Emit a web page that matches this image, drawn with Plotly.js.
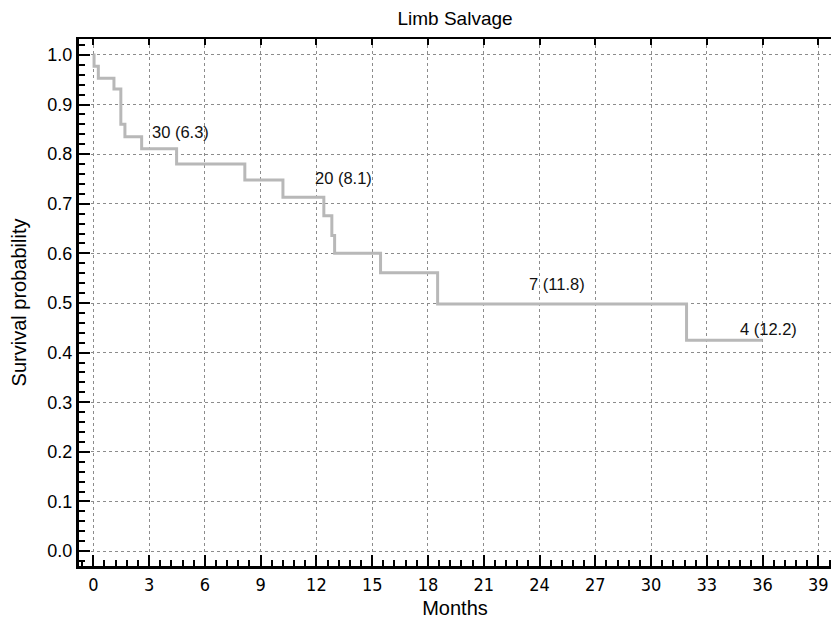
<!DOCTYPE html>
<html>
<head>
<meta charset="utf-8">
<script src="https://cdn.plot.ly/plotly-3.0.1.min.js"></script>
<style>html,body{margin:0;padding:0;background:#fff;}#chart{width:831px;height:623px;}</style>
</head>
<body>
<div id="chart"></div>
<script>
// Kaplan-Meier step data
const months = [0, 0.04, 0.27, 1.11, 1.48, 1.7, 2.6, 4.48, 8.15, 10.2, 12.4, 12.83, 12.98, 15.45, 18.52, 31.91, 36];
const survival = [1.0, 0.977, 0.953, 0.931, 0.86, 0.835, 0.811, 0.78, 0.748, 0.713, 0.676, 0.636, 0.60, 0.561, 0.498, 0.425, 0.425];

// Number at risk (SE) labels
const labelText = ["30 (6.3)", "20 (8.1)", "7 (11.8)", "4 (12.2)"];
const labelX = [4.69, 13.46, 24.95, 36.3];
const labelY = [0.845, 0.751, 0.539, 0.447];

const xTicks = [0, 3, 6, 9, 12, 15, 18, 21, 24, 27, 30, 33, 36, 39];
const yTicks = [0, 0.1, 0.2, 0.3, 0.4, 0.5, 0.6, 0.7, 0.8, 0.9, 1.0];

const font = "Liberation Sans, Arial, sans-serif";
const narrow = "Liberation Sans Narrow, DejaVu Sans Condensed, Arial Narrow, Liberation Sans, sans-serif";

const trace = {
  x: months, y: survival, type: "scatter", mode: "lines",
  line: {shape: "hv", color: "#b8b8b8", width: 3},
  hoverinfo: "skip", showlegend: false
};
// empty helper trace so the top (frame) axis gets drawn
const topAxisTrace = {
  x: [], y: [], xaxis: "x2", yaxis: "y", type: "scatter", mode: "lines",
  hoverinfo: "skip", showlegend: false
};

const annotations = labelText.map((t, i) => ({
  x: labelX[i], y: labelY[i], xref: "x", yref: "y", text: t,
  showarrow: false, font: {family: font, size: 16.5, color: "#111"}
}));

const layout = {
  width: 831, height: 623,
  margin: {l: 79, r: 0, t: 39, b: 57},
  paper_bgcolor: "#fff", plot_bgcolor: "#fff",
  font: {family: font, color: "#000"},
  title: {text: "Limb Salvage", font: {family: font, size: 19, color: "#000"}, x: 0.5476, xanchor: "center", y: 0.97, yanchor: "middle"},
  xaxis: {
    range: [-0.77, 39.68], tickmode: "array", tickvals: xTicks,
    ticks: "inside", ticklen: 11, tickwidth: 2, tickcolor: "#000",
    minor: {dtick: 0.6, tick0: 0, ticks: "inside", ticklen: 6, tickwidth: 2, tickcolor: "#000", showgrid: false},
    showline: true, linewidth: 3, linecolor: "#000", mirror: false,
    showgrid: true, gridcolor: "#8c8c8c", gridwidth: 1, griddash: "3px,3px",
    zeroline: false,
    tickfont: {family: narrow, size: 18, color: "#000"},
    title: {text: "Months", font: {family: font, size: 20, color: "#000"}, standoff: 8}
  },
  xaxis2: {
    overlaying: "x", side: "top", anchor: "y", range: [-0.77, 39.68],
    tickmode: "array", tickvals: xTicks, showticklabels: false,
    ticks: "inside", ticklen: 6, tickwidth: 2, tickcolor: "#000",
    showline: true, linewidth: 2.5, linecolor: "#000",
    showgrid: false, zeroline: false
  },
  yaxis: {
    range: [-0.030, 1.032], tickmode: "array", tickvals: yTicks, tickformat: ".1f",
    ticks: "inside", ticklen: 11, tickwidth: 2, tickcolor: "#000",
    minor: {dtick: 0.02, tick0: 0, ticks: "inside", ticklen: 6, tickwidth: 2, tickcolor: "#000", showgrid: false},
    showline: true, linewidth: 3, linecolor: "#000", mirror: false,
    showgrid: true, gridcolor: "#8c8c8c", gridwidth: 1, griddash: "3px,3px",
    zeroline: false,
    tickfont: {family: font, size: 18, color: "#000"},
    title: {text: "Survival probability", font: {family: font, size: 20, color: "#000"}, standoff: 16}
  },
  annotations: annotations
};

Plotly.newPlot("chart", [trace, topAxisTrace], layout, {displayModeBar: false, staticPlot: true});
</script>
</body>
</html>
